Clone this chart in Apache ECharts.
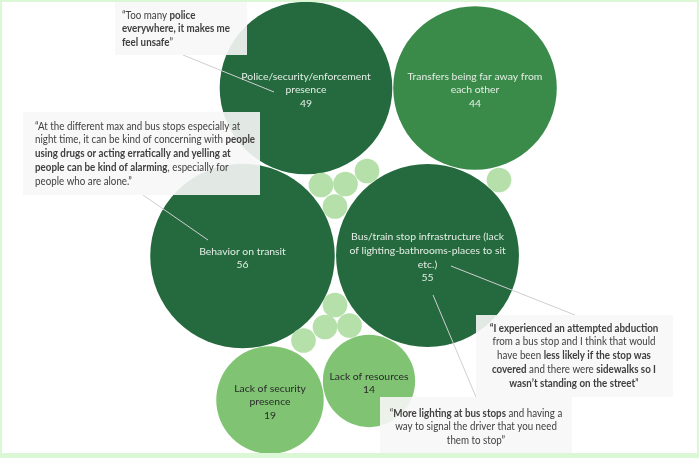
<!DOCTYPE html>
<html>
<head>
<meta charset="utf-8">
<script src="https://cdn.jsdelivr.net/npm/echarts@6/dist/echarts.min.js"></script>
<style>
  html, body { margin: 0; padding: 0; background: #ffffff; }
  #chart { position: absolute; left: 0; top: 0; width: 699px; height: 458px; }
  #frame { position: absolute; left: 0; top: 0; width: 699px; height: 458px; box-sizing: border-box;
           border: 2px solid #dcf7d6; border-bottom-width: 5px; pointer-events: none; }
</style>
</head>
<body>
<div id="chart"></div>
<div id="frame"></div>
<script>
// Survey themes and how many responses mentioned each one
const categories = [
  'Police/security/enforcement presence',
  'Transfers being far away from each other',
  'Behavior on transit',
  'Bus/train stop infrastructure (lack of lighting-bathrooms-places to sit etc.)',
  'Lack of security presence',
  'Lack of resources'
];
const counts = [49, 44, 56, 55, 19, 14];
// Bubble captions with their line breaks
const captions = [
  'Police/security/enforcement\npresence',
  'Transfers being far away from\neach other',
  'Behavior on transit',
  'Bus/train stop infrastructure (lack\nof lighting-bathrooms-places to sit\netc.)',
  'Lack of security\npresence',
  'Lack of resources'
];
// Themes mentioned only once (drawn without captions)
const minorCounts = [1, 1, 1, 1, 1, 1, 1, 1, 1];

// Packed layout: centre of each bubble in the layout space
const packCentres = [[306, 88], [475, 88], [242.5, 256], [427.5, 255.5], [270, 400], [369, 381]];
const minorCentres = [[321, 185], [345.5, 184], [367, 171], [335, 206.5], [499, 180],
                      [335, 305], [325, 327], [349.5, 325.5], [303.5, 340.5]];

const FONT = "'Lato', sans-serif";
const RADIUS_PER_SQRT = 12.33;

function bubbleColor(v) {
  if (v >= 45) return '#246a3e';
  if (v >= 30) return '#3a8b4a';
  if (v >= 10) return '#80c473';
  return '#b5e0a9';
}

const mainData = counts.map((v, i) => ({
  value: [packCentres[i][0], packCentres[i][1], v],
  name: categories[i],
  caption: captions[i],
  itemStyle: { color: bubbleColor(v) },
  label: { color: v >= 30 ? '#e4eee5' : '#2a2a2a' }
}));
const minorData = minorCounts.map((v, i) => ({
  value: [minorCentres[i][0], minorCentres[i][1], v],
  itemStyle: { color: bubbleColor(v) }
}));

const chart = echarts.init(document.getElementById('chart'), null, { renderer: 'canvas' });

const quoteRich = {
  n: { fontFamily: FONT, fontSize: 11.5, color: '#404040', lineHeight: 13.8 },
  b: { fontFamily: FONT, fontSize: 11.5, color: '#222222', fontWeight: 'bold', lineHeight: 13.8 }
};

function quote(box, textX, textY, align, lines, link) {
  return [
    { type: 'line', z: 20, silent: true,
      shape: { x1: link[0], y1: link[1], x2: link[2], y2: link[3] },
      style: { stroke: '#cfcfcf', lineWidth: 1 } },
    { type: 'rect', z: 21, silent: true,
      shape: { x: box[0], y: box[1], width: box[2], height: box[3] },
      style: { fill: 'rgba(247,247,247,0.9)' } },
    { type: 'text', z: 22, silent: true, x: textX, y: textY, scaleX: 0.85,
      style: { text: lines.join('\n'), rich: quoteRich, align: align, verticalAlign: 'top',
               font: '11.5px ' + FONT, fill: '#404040' } }
  ];
}

const annotations = [].concat(
  quote([115, 2, 132, 53], 122, 8, 'left', [
    '{n|“Too many }{b|police}',
    '{b|everywhere, it makes me}',
    '{b|feel unsafe}{n|”}'
  ], [183, 55, 274, 92]),
  quote([23, 112, 237, 83], 35, 119, 'left', [
    '{n|“At the different max and bus stops especially at}',
    '{n|night time, it can be kind of concerning with }{b|people}',
    '{b|using drugs or acting erratically and yelling at}',
    '{b|people can be kind of alarming}{n|, especially for}',
    '{n|people who are alone.”}'
  ], [143, 195, 208, 240]),
  quote([476, 315, 197, 82], 574, 321, 'center', [
    '{b|“I experienced an attempted abduction}',
    '{n|from a bus stop and I think that would}',
    '{n|have been }{b|less likely if the stop was}',
    '{b|covered}{n| and there were }{b|sidewalks so I}',
    '{b|wasn’t standing on the street}{n|”}'
  ], [451, 266, 575, 315]),
  quote([380, 397, 192, 56], 476, 406, 'center', [
    '{n|“}{b|More lighting at bus stops}{n| and having a}',
    '{n|way to signal the driver that you need}',
    '{n|them to stop”}'
  ], [433, 295, 476, 397])
);

chart.setOption({
  animation: false,
  backgroundColor: '#ffffff',
  grid: { left: 0, right: 0, top: 0, bottom: 0 },
  xAxis: { type: 'value', min: 0, max: 699, show: false },
  yAxis: { type: 'value', min: 0, max: 458, inverse: true, show: false },
  series: [
    {
      type: 'scatter',
      data: mainData,
      symbol: 'circle',
      symbolSize: (val) => 2 * RADIUS_PER_SQRT * Math.sqrt(val[2]),
      itemStyle: { opacity: 1 },
      label: {
        show: true,
        position: 'inside',
        offset: [0, 2],
        fontFamily: FONT,
        fontSize: 10.4,
        lineHeight: 13.6,
        align: 'center',
        formatter: (p) => p.data.caption + '\n' + p.value[2]
      },
      emphasis: { disabled: true }
    },
    {
      type: 'scatter',
      data: minorData,
      symbol: 'circle',
      symbolSize: (val) => 2 * RADIUS_PER_SQRT * Math.sqrt(val[2]),
      itemStyle: { opacity: 1 },
      emphasis: { disabled: true }
    }
  ],
  graphic: annotations
});
</script>
</body>
</html>
